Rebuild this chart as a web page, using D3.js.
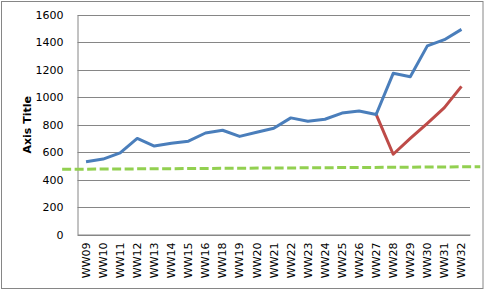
<!DOCTYPE html>
<html>
<head>
<meta charset="utf-8">
<script src="https://cdn.jsdelivr.net/npm/d3@7"></script>
<style>
  body { margin: 0; background: #fff; }
  svg text { font-family: "DejaVu Sans", Verdana, sans-serif; }
</style>
</head>
<body>
<script>
// categories (no WW17 in the source)
var weeks = ["WW09","WW10","WW11","WW12","WW13","WW14","WW15","WW16","WW18","WW19","WW20","WW21",
             "WW22","WW23","WW24","WW25","WW26","WW27","WW28","WW29","WW30","WW31","WW32"];
var blueValues = [530,550,595,700,645,665,680,740,760,715,745,775,850,825,840,885,900,875,1175,1150,1375,1420,1495];
// red series only covers WW27..WW32
var redWeeks = ["WW27","WW28","WW29","WW30","WW31","WW32"];
var redValues = [875,585,700,810,925,1080];
// dashed trend line: category index position and value at its two ends
var trendIndex = [-1.4, 23.1];
var trendValues = [475, 494];
var yTicks = [0,200,400,600,800,1000,1200,1400,1600];

var width = 486, height = 291;
var margin = {left: 77.5, right: 16, top: 15, bottom: 56.5};

var svg = d3.select("body").append("svg")
    .attr("width", width)
    .attr("height", height);

// outer chart border
svg.append("rect")
    .attr("x", 1.5).attr("y", 1.5)
    .attr("width", 481.5).attr("height", 287)
    .attr("fill", "#fff")
    .attr("stroke", "#868686");

var x = d3.scaleBand()
    .domain(weeks)
    .range([margin.left, width - margin.right]);

// index scale for the trend line, same positions as the band centers
var xi = d3.scaleLinear()
    .domain([0, weeks.length - 1])
    .range([x(weeks[0]) + x.bandwidth() / 2, x(weeks[weeks.length - 1]) + x.bandwidth() / 2]);

var y = d3.scaleLinear()
    .domain([0, 1600])
    .range([height - margin.bottom, margin.top]);

// gridlines
svg.append("g")
  .selectAll("line")
  .data(yTicks)
  .enter().append("line")
    .attr("x1", margin.left)
    .attr("x2", width - margin.right)
    .attr("y1", function(d) { return Math.round(y(d)) + 0.5; })
    .attr("y2", function(d) { return Math.round(y(d)) + 0.5; })
    .attr("stroke", "#868686");

// y axis
var yAxis = svg.append("g")
    .attr("transform", "translate(" + margin.left + ",0)")
    .call(d3.axisLeft(y).tickValues(yTicks).tickFormat(d3.format("d")).tickSize(0).tickPadding(14));
yAxis.select(".domain").attr("stroke", "#868686");
yAxis.selectAll("text").attr("font-size", "11px").attr("fill", "#000");

// x axis
var xAxis = svg.append("g")
    .attr("transform", "translate(0," + (height - margin.bottom) + ")")
    .call(d3.axisBottom(x).tickSize(0).tickSizeOuter(0));
xAxis.select(".domain").attr("stroke", "#868686");
xAxis.selectAll("text")
    .attr("font-size", "11px")
    .attr("fill", "#000")
    .attr("transform", "rotate(-90)")
    .attr("text-anchor", "end")
    .attr("x", -8)
    .attr("y", 0)
    .attr("dy", "0.35em");

// axis title
svg.append("text")
    .attr("transform", "translate(31," + ((margin.top + height - margin.bottom) / 2) + ") rotate(-90)")
    .attr("text-anchor", "middle")
    .attr("font-size", "11px")
    .attr("font-weight", "bold")
    .text("Axis Title");

var line = d3.line()
    .x(function(d) { return x(d[0]) + x.bandwidth() / 2; })
    .y(function(d) { return y(d[1]); });

// trend line
svg.append("path")
    .datum(d3.zip(trendIndex, trendValues))
    .attr("fill", "none")
    .attr("stroke", "#92D050")
    .attr("stroke-width", 3)
    .attr("stroke-dasharray", "9,3.5")
    .attr("d", d3.line()
        .x(function(d) { return xi(d[0]); })
        .y(function(d) { return y(d[1]); }));

svg.append("path")
    .datum(d3.zip(redWeeks, redValues))
    .attr("fill", "none")
    .attr("stroke", "#BE4B48")
    .attr("stroke-width", 3)
    .attr("stroke-linejoin", "round")
    .attr("d", line);

svg.append("path")
    .datum(d3.zip(weeks, blueValues))
    .attr("fill", "none")
    .attr("stroke", "#4A7EBB")
    .attr("stroke-width", 3)
    .attr("stroke-linejoin", "round")
    .attr("d", line);
</script>
</body>
</html>
